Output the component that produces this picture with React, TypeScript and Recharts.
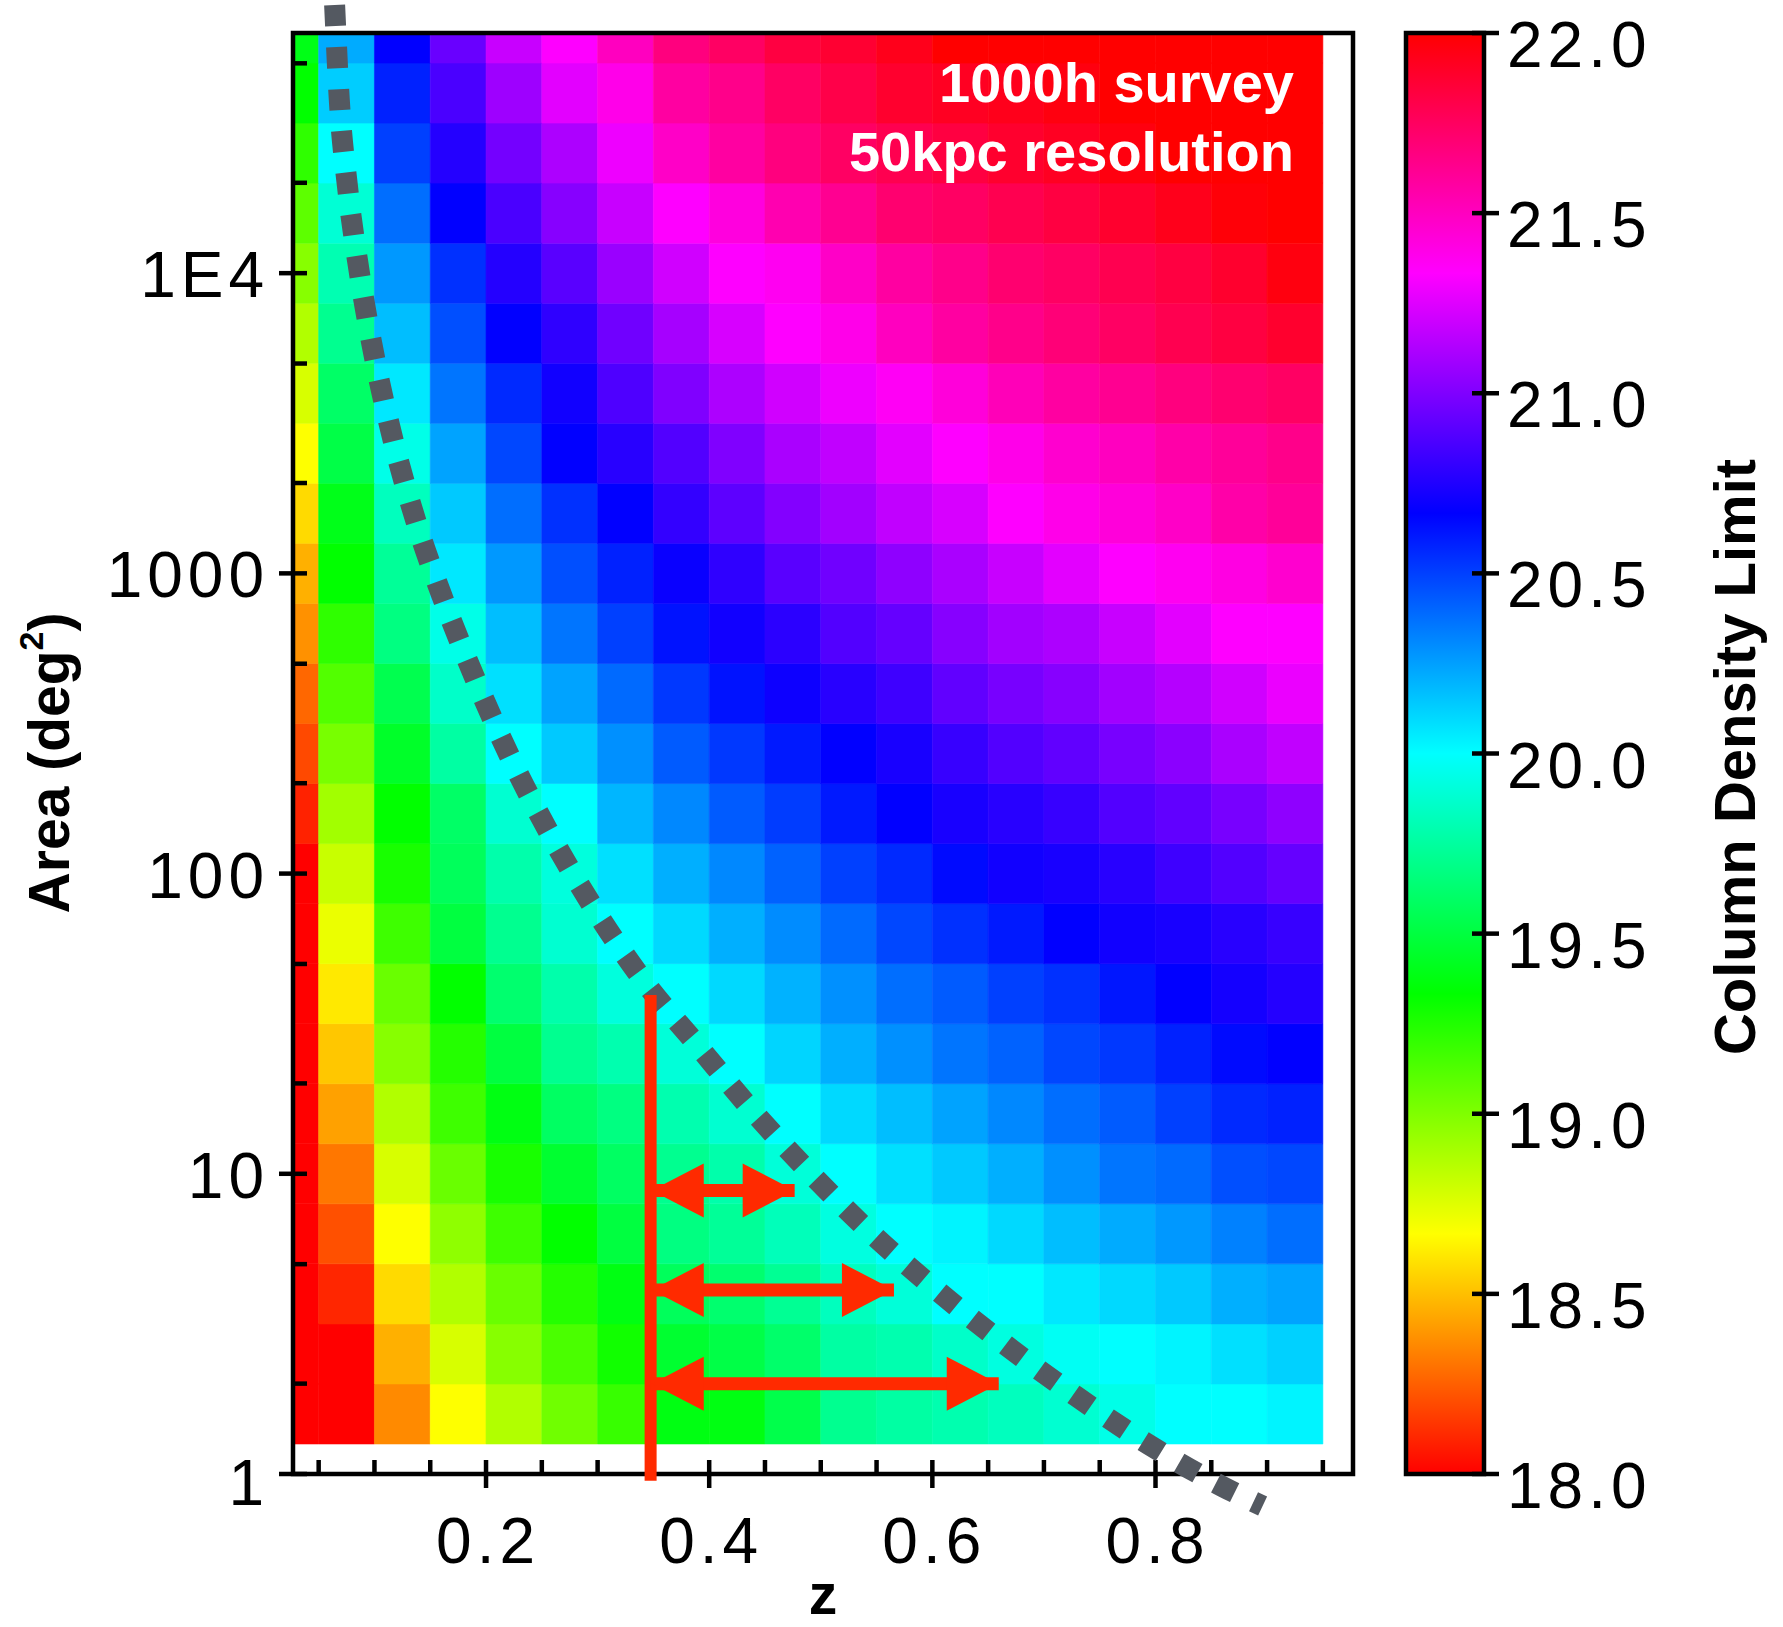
import {
  ComposedChart,
  XAxis,
  YAxis,
  ReferenceArea,
  Line,
  Scatter,
  Label,
} from 'recharts'

// z bin edges (last column ends at 0.95, first one starts off-axis)
const Z_EDGES = [0, 0.05, 0.1, 0.15, 0.2, 0.25, 0.3, 0.35, 0.4, 0.45, 0.5, 0.55, 0.6, 0.65, 0.7, 0.75, 0.8, 0.85, 0.9, 0.95]
// log10(area) bin edges, bottom to top
const LOG_AREA_EDGES = [0.1, 0.3, 0.5, 0.7, 0.9, 1.1, 1.3, 1.5, 1.7, 1.9, 2.1, 2.3, 2.5, 2.7, 2.9, 3.1, 3.3, 3.5, 3.7, 3.9, 4.1, 4.3, 4.5, 4.7, 4.9]

// column density limit (log N), one row per area bin from the bottom up, one value per z bin
const DENSITY = [
  [18.00, 18.00, 18.36, 18.67, 18.87, 19.04, 19.19, 19.38, 19.38, 19.53, 19.71, 19.76, 19.79, 19.83, 19.88, 19.94, 20.00, 20.00, 20.03],
  [18.00, 18.00, 18.46, 18.77, 18.98, 19.14, 19.29, 19.46, 19.52, 19.61, 19.76, 19.79, 19.86, 19.92, 19.97, 20.00, 20.03, 20.08, 20.12],
  [18.00, 18.10, 18.57, 18.87, 19.06, 19.24, 19.38, 19.57, 19.62, 19.72, 19.83, 19.90, 20.00, 20.00, 20.06, 20.10, 20.14, 20.21, 20.24],
  [18.00, 18.21, 18.67, 18.96, 19.17, 19.33, 19.50, 19.67, 19.73, 19.82, 19.92, 20.00, 20.03, 20.10, 20.17, 20.22, 20.27, 20.33, 20.38],
  [18.00, 18.31, 18.77, 19.06, 19.27, 19.46, 19.59, 19.71, 19.78, 19.90, 20.00, 20.08, 20.14, 20.21, 20.29, 20.36, 20.39, 20.46, 20.48],
  [18.00, 18.42, 18.87, 19.17, 19.38, 19.59, 19.67, 19.79, 19.88, 20.00, 20.10, 20.17, 20.24, 20.31, 20.38, 20.43, 20.50, 20.56, 20.58],
  [18.00, 18.52, 18.98, 19.24, 19.50, 19.71, 19.79, 19.90, 20.00, 20.11, 20.21, 20.29, 20.36, 20.41, 20.48, 20.52, 20.58, 20.64, 20.67],
  [18.00, 18.61, 19.06, 19.33, 19.62, 19.78, 19.91, 20.00, 20.10, 20.20, 20.29, 20.38, 20.43, 20.50, 20.54, 20.61, 20.67, 20.72, 20.76],
  [18.00, 18.72, 19.17, 19.50, 19.71, 19.88, 20.00, 20.10, 20.21, 20.30, 20.39, 20.48, 20.54, 20.60, 20.67, 20.71, 20.73, 20.77, 20.81],
  [18.00, 18.81, 19.27, 19.57, 19.78, 19.91, 20.08, 20.21, 20.31, 20.41, 20.50, 20.56, 20.64, 20.71, 20.73, 20.77, 20.83, 20.88, 20.93],
  [18.09, 18.91, 19.33, 19.60, 19.88, 20.00, 20.19, 20.31, 20.43, 20.51, 20.60, 20.67, 20.73, 20.77, 20.81, 20.88, 20.92, 20.98, 21.04],
  [18.19, 19.02, 19.44, 19.76, 20.00, 20.14, 20.29, 20.43, 20.52, 20.60, 20.67, 20.73, 20.81, 20.88, 20.92, 20.98, 21.03, 21.11, 21.17],
  [18.27, 19.12, 19.54, 19.86, 20.08, 20.24, 20.39, 20.52, 20.62, 20.70, 20.77, 20.83, 20.92, 20.98, 21.02, 21.09, 21.14, 21.21, 21.28],
  [18.38, 19.21, 19.67, 19.94, 20.17, 20.36, 20.50, 20.62, 20.71, 20.78, 20.88, 20.93, 21.02, 21.09, 21.12, 21.19, 21.26, 21.33, 21.33],
  [18.46, 19.33, 19.73, 20.06, 20.27, 20.46, 20.58, 20.69, 20.79, 20.90, 20.96, 21.04, 21.11, 21.19, 21.26, 21.33, 21.37, 21.41, 21.46],
  [18.57, 19.40, 19.83, 20.14, 20.38, 20.54, 20.67, 20.80, 20.91, 21.01, 21.09, 21.17, 21.23, 21.33, 21.39, 21.43, 21.48, 21.56, 21.60],
  [18.67, 19.52, 19.94, 20.24, 20.48, 20.67, 20.77, 20.88, 21.00, 21.11, 21.17, 21.26, 21.33, 21.39, 21.46, 21.50, 21.56, 21.60, 21.64],
  [18.77, 19.60, 20.06, 20.36, 20.56, 20.71, 20.87, 21.00, 21.12, 21.21, 21.29, 21.36, 21.43, 21.52, 21.58, 21.62, 21.67, 21.71, 21.74],
  [18.87, 19.71, 20.17, 20.46, 20.67, 20.79, 20.96, 21.10, 21.23, 21.33, 21.39, 21.50, 21.58, 21.64, 21.69, 21.74, 21.79, 21.83, 21.88],
  [18.98, 19.80, 20.27, 20.54, 20.76, 20.90, 21.07, 21.21, 21.33, 21.37, 21.48, 21.58, 21.64, 21.71, 21.74, 21.79, 21.83, 21.88, 21.96],
  [19.09, 19.89, 20.38, 20.67, 20.86, 21.02, 21.19, 21.33, 21.42, 21.54, 21.62, 21.71, 21.74, 21.79, 21.83, 21.88, 21.93, 21.98, 22.00],
  [19.21, 20.00, 20.50, 20.76, 20.97, 21.12, 21.29, 21.48, 21.58, 21.67, 21.74, 21.79, 21.83, 21.88, 21.91, 21.96, 22.00, 22.00, 22.00],
  [19.33, 20.13, 20.58, 20.86, 21.08, 21.26, 21.39, 21.58, 21.64, 21.74, 21.81, 21.88, 21.91, 21.93, 21.96, 22.00, 22.00, 22.00, 22.00],
  [19.39, 20.22, 20.67, 20.94, 21.19, 21.33, 21.50, 21.67, 21.74, 21.83, 21.87, 21.93, 22.00, 22.00, 22.00, 22.00, 22.00, 22.00, 22.00],
]

// dotted survey-limit curve
const LIMIT_Z = [0.0643, 0.0685, 0.0758, 0.0864, 0.1001, 0.1171, 0.1374, 0.1614, 0.1902, 0.2221, 0.2575, 0.2969, 0.3403, 0.3873, 0.4364, 0.489, 0.546, 0.6048, 0.6657, 0.7285, 0.7929, 0.8601, 0.896]
const LIMIT_AREA = [78200, 37760, 19500, 10090, 5224, 2742, 1483, 824, 446, 242, 135, 76.4, 44.4, 27.4, 16.6, 10.2, 6.3, 4.07, 2.69, 1.82, 1.26, 0.908, 0.782]

// red marker at z ~ 0.35 and the three range arrows
const MARKER_Z = 0.3475
const MARKER_AREA = [0.95, 39.4]
const ARROW_AREA = [8.8, 4.1, 2.0]
const ARROW_Z_END = [0.4766, 0.5656, 0.6595]

const Z_TICKS = [0.05, 0.1, 0.15, 0.2, 0.25, 0.3, 0.35, 0.4, 0.45, 0.5, 0.55, 0.6, 0.65, 0.7, 0.75, 0.8, 0.85, 0.9, 0.95]
const Z_LABELS = [0.2, 0.4, 0.6, 0.8]
const AREA_TICKS = [1, 2, 5, 10, 20, 50, 100, 200, 500, 1000, 2000, 5000, 10000, 20000, 50000]
const AREA_LABELS: Record<number, string> = { 1: '1', 10: '10', 100: '100', 1000: '1000', 10000: '1E4' }
const CBAR_TICKS = [18, 18.5, 19, 19.5, 20, 20.5, 21, 21.5, 22]
const CBAR_HUES = [0, 60, 120, 180, 240, 300, 360]

const W = 1783
const H = 1627
const FONT = '"Liberation Sans", Arial, Helvetica, sans-serif'
const RED = '#ff2a00'
const DOTS = '#545961'

// plot frame in page pixels
const PLOT_LEFT = 293
const PLOT_RIGHT = 1353
const PLOT_TOP = 33
const PLOT_BOTTOM = 1474
const Z_MIN = 0.027
const Z_MAX = 0.977
const LOG_MIN = 0
const LOG_MAX = 4.8
const Y_AXIS_W = 120
const X_AXIS_H = 100

const CB_LEFT = 1406
const CB_RIGHT = 1484
const CB_AXIS_W = 200

// overlay chart spans the whole page so the curve may run past the frame
const PX_PER_Z = (PLOT_RIGHT - PLOT_LEFT) / (Z_MAX - Z_MIN)
const PX_PER_DEC = (PLOT_BOTTOM - PLOT_TOP) / (LOG_MAX - LOG_MIN)
const OVER_Z = [Z_MIN - PLOT_LEFT / PX_PER_Z, Z_MAX + (W - PLOT_RIGHT) / PX_PER_Z]
const OVER_AREA = [10 ** (LOG_MIN - (H - PLOT_BOTTOM) / PX_PER_DEC), 10 ** (LOG_MAX + PLOT_TOP / PX_PER_DEC)]

function densityColor(v: number) {
  const t = Math.min(1, Math.max(0, (v - 18) / 4))
  return `hsl(${(t * 360).toFixed(1)}, 100%, 50%)`
}

const tickText = {
  fontFamily: FONT,
  fontSize: 64,
  fill: '#000',
  letterSpacing: 5,
}

function ZTick({ x, y, payload }: any) {
  const major = Z_LABELS.some(m => Math.abs(m - payload.value) < 1e-6)
  return (
    <g>
      <line x1={x} x2={x} y1={y - 14} y2={major ? y + 14 : y} stroke="#000" strokeWidth={4.5} />
      {major && (
        <text x={x + 2} y={y + 89} textAnchor="middle" style={tickText}>
          {payload.value.toFixed(1)}
        </text>
      )}
    </g>
  )
}

function AreaTick({ x, y, payload }: any) {
  const label = AREA_LABELS[payload.value]
  return (
    <g>
      <line x1={label ? x - 14 : x} x2={x + 14} y1={y} y2={y} stroke="#000" strokeWidth={4.5} />
      {label && (
        <text x={x - 24} y={y + (payload.value === 1 ? 9 : 2)} textAnchor="end" dominantBaseline="central" style={tickText}>
          {label}
        </text>
      )}
    </g>
  )
}

function BarTick({ x, y, payload }: any) {
  return (
    <g>
      <line x1={x - 12} x2={x + 15} y1={y} y2={y} stroke="#000" strokeWidth={4.5} />
      <text x={x + 23} y={y + 12} dominantBaseline="central" style={tickText}>
        {payload.value.toFixed(1)}
      </text>
    </g>
  )
}

const titleText = { fontFamily: FONT, fontSize: 57, fontWeight: 700, fill: '#000' }

function ZTitle() {
  return (
    <text x={(PLOT_LEFT + PLOT_RIGHT) / 2} y={1614} textAnchor="middle" style={titleText}>
      z
    </text>
  )
}

function AreaTitle() {
  const cx = 49
  const cy = 763
  return (
    <text x={cx} y={cy} transform={`rotate(-90 ${cx} ${cy})`} textAnchor="middle" dominantBaseline="central" style={titleText}>
      Area (deg<tspan dy={-18} fontSize={34}>2</tspan><tspan dy={18}>)</tspan>
    </text>
  )
}

function BarTitle() {
  const cx = 1734
  const cy = 757
  return (
    <text x={cx} y={cy} transform={`rotate(-90 ${cx} ${cy})`} textAnchor="middle" dominantBaseline="central" style={{ ...titleText, fontSize: 58 }}>
      Column Density Limit
    </text>
  )
}

function ArrowHead({ cx, cy, payload }: any) {
  const d = payload.dir
  const len = 52
  const half = 27
  return <polygon points={`${cx},${cy} ${cx - d * len},${cy - half} ${cx - d * len},${cy + half}`} fill={RED} />
}

export default function App() {
  const cells: any[] = []
  DENSITY.forEach((row, r) =>
    row.forEach((v, c) => {
      const color = densityColor(v)
      cells.push(
        <ReferenceArea
          key={`c-${r}-${c}`}
          x1={Z_EDGES[c]}
          x2={Z_EDGES[c + 1]}
          y1={10 ** LOG_AREA_EDGES[r]}
          y2={10 ** LOG_AREA_EDGES[r + 1]}
          fill={color}
          fillOpacity={1}
          stroke={color}
          strokeWidth={0.6}
          ifOverflow="hidden"
        />
      )
    })
  )

  const limitCurve = LIMIT_Z.map((z, i) => ({ z, area: LIMIT_AREA[i] }))
  const marker = MARKER_AREA.map(area => ({ z: MARKER_Z, area }))
  const shafts = ARROW_AREA.map((area, i) => [
    { z: MARKER_Z, area },
    { z: ARROW_Z_END[i], area },
  ])
  const heads = ARROW_AREA.flatMap((area, i) => [
    { z: MARKER_Z + 0.001, area, dir: -1 },
    { z: ARROW_Z_END[i], area, dir: 1 },
  ])

  const abs = { position: 'absolute' as const, left: 0, top: 0 }

  return (
    <div style={{ position: 'absolute', left: 0, top: 0, width: W, height: H, background: '#fff' }}>
      {/* heatmap with axes */}
      <div style={abs}>
        <ComposedChart
          width={W}
          height={H}
          margin={{ top: PLOT_TOP, right: W - PLOT_RIGHT, bottom: H - PLOT_BOTTOM - X_AXIS_H, left: PLOT_LEFT - Y_AXIS_W }}
        >
          {cells}
          <ReferenceArea
            x1={Z_MIN}
            x2={Z_MAX}
            y1={10 ** LOG_MIN}
            y2={10 ** LOG_MAX}
            fill="none"
            stroke="#000"
            strokeWidth={4.5}
            ifOverflow="visible"
          />
          <XAxis
            type="number"
            dataKey="z"
            domain={[Z_MIN, Z_MAX]}
            allowDataOverflow
            ticks={Z_TICKS}
            interval={0}
            tick={<ZTick />}
            tickLine={false}
            axisLine={false}
            tickSize={0}
            tickMargin={0}
            height={X_AXIS_H}
          >
            <Label content={<ZTitle />} />
          </XAxis>
          <YAxis
            type="number"
            dataKey="area"
            scale="log"
            domain={[10 ** LOG_MIN, 10 ** LOG_MAX]}
            allowDataOverflow
            ticks={AREA_TICKS}
            interval={0}
            tick={<AreaTick />}
            tickLine={false}
            axisLine={false}
            tickSize={0}
            tickMargin={0}
            width={Y_AXIS_W}
          >
            <Label content={<AreaTitle />} />
          </YAxis>
        </ComposedChart>
      </div>

      {/* colour bar */}
      <div style={abs}>
        <ComposedChart
          width={W}
          height={H}
          margin={{ top: PLOT_TOP, right: W - CB_RIGHT - CB_AXIS_W, bottom: H - PLOT_BOTTOM, left: CB_LEFT }}
        >
          <defs>
            <linearGradient id="cbar" x1="0" y1="1" x2="0" y2="0">
              {CBAR_HUES.map(h => (
                <stop key={h} offset={h / 360} stopColor={`hsl(${h}, 100%, 50%)`} />
              ))}
            </linearGradient>
          </defs>
          <ReferenceArea
            x1={0}
            x2={1}
            y1={18}
            y2={22}
            fill="url(#cbar)"
            fillOpacity={1}
            stroke="#000"
            strokeWidth={4.5}
            ifOverflow="visible"
          />
          <XAxis type="number" dataKey="x" domain={[0, 1]} allowDataOverflow hide />
          <YAxis
            type="number"
            dataKey="v"
            orientation="right"
            domain={[18, 22]}
            allowDataOverflow
            ticks={CBAR_TICKS}
            interval={0}
            tick={<BarTick />}
            tickLine={false}
            axisLine={false}
            tickSize={0}
            tickMargin={0}
            width={CB_AXIS_W}
          >
            <Label content={<BarTitle />} />
          </YAxis>
        </ComposedChart>
      </div>

      {/* survey limit curve and redshift marker */}
      <div style={abs}>
        <ComposedChart width={W} height={H} margin={{ top: 0, right: 0, bottom: 0, left: 0 }}>
          <XAxis type="number" dataKey="z" domain={OVER_Z} allowDataOverflow hide />
          <YAxis type="number" dataKey="area" scale="log" domain={OVER_AREA} allowDataOverflow hide />
          <Line
            data={limitCurve}
            dataKey="area"
            type="monotone"
            stroke={DOTS}
            strokeWidth={21}
            strokeDasharray="21 21"
            dot={false}
            activeDot={false}
            isAnimationActive={false}
          />
          <Line
            data={marker}
            dataKey="area"
            type="linear"
            stroke={RED}
            strokeWidth={12}
            dot={false}
            activeDot={false}
            isAnimationActive={false}
          />
          {shafts.map((s, i) => (
            <Line
              key={`shaft-${i}`}
              data={s}
              dataKey="area"
              type="linear"
              stroke={RED}
              strokeWidth={13}
              dot={false}
              activeDot={false}
              isAnimationActive={false}
            />
          ))}
          <Scatter data={heads} dataKey="area" shape={<ArrowHead />} isAnimationActive={false} />
        </ComposedChart>
      </div>

      <div
        style={{
          position: 'absolute',
          left: 0,
          top: 48,
          width: 1294,
          textAlign: 'right',
          color: '#fff',
          fontFamily: FONT,
          fontWeight: 700,
          fontSize: 56,
          lineHeight: '69px',
        }}
      >
        1000h survey
        <br />
        50kpc resolution
      </div>
    </div>
  )
}
